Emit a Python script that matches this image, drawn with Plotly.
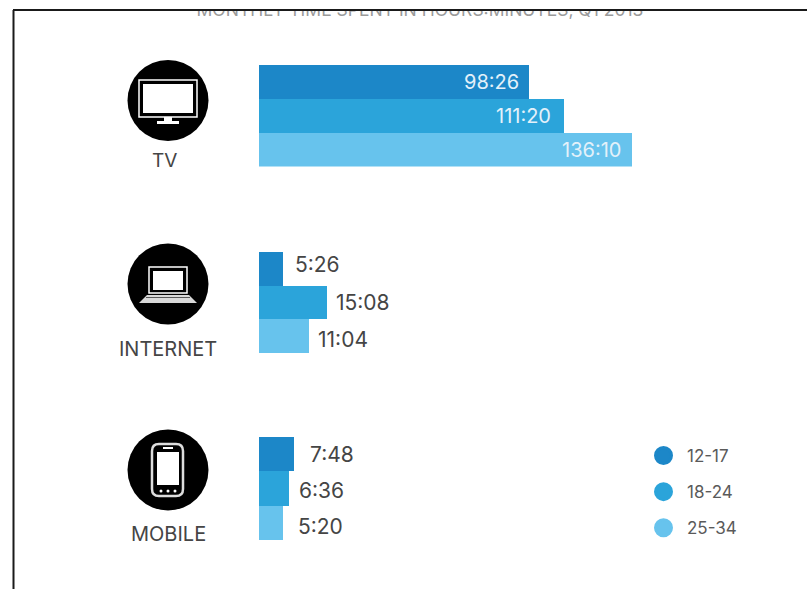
import plotly.graph_objects as go

WIDTH, HEIGHT = 807, 589

# Time per age group, written as hours:minutes
age_groups = ["12-17", "18-24", "25-34"]
tv_times = ["98:26", "111:20", "136:10"]
internet_times = ["5:26", "15:08", "11:04"]
mobile_times = ["7:48", "6:36", "5:20"]
colors = ["#1c87c8", "#2ba4da", "#67c3ed"]
media = ["TV", "INTERNET", "MOBILE"]
heading = "MONTHLY TIME SPENT IN HOURS:MINUTES, Q1 2013"

INK = "#454545"
FONT = "Inter"
BAR_LEFT = 259


def hours(text):
    h, m = text.split(":")
    return int(h) + int(m) / 60


def span_x(px):
    return px / WIDTH


def span_y(top, bottom):
    return [1 - bottom / HEIGHT, 1 - top / HEIGHT]


# Each panel: times, vertical pixel band, pixels per hour, label anchor and offsets
panels = [
    dict(times=tv_times, band=(65, 166.5), scale=2.741, inside=True,
         shift=[-8, -11, -9], lift=[0, 0, 0]),
    dict(times=internet_times, band=(252, 353), scale=4.48, inside=False,
         shift=[10, 7, 7], lift=[4, 0, -3]),
    dict(times=mobile_times, band=(437, 540), scale=4.48, inside=False,
         shift=[14, 8, 13], lift=[0, -2, -4]),
]

fig = go.Figure()
layout_axes = {}
annotations = []

for i, panel in enumerate(panels, start=1):
    suffix = "" if i == 1 else str(i)
    xname, yname = f"x{suffix}", f"y{suffix}"
    values = [hours(t) for t in panel["times"]]
    for group, value, color in zip(age_groups, values, colors):
        fig.add_trace(go.Bar(
            x=[value], y=[group], orientation="h", width=1,
            marker=dict(color=color, line=dict(width=0)),
            xaxis=xname, yaxis=yname, showlegend=False,
            hovertemplate=f"{group}: %{{x:.2f}}<extra></extra>",
        ))
    layout_axes[f"xaxis{suffix}"] = dict(
        domain=[span_x(BAR_LEFT), 1], range=[0, (WIDTH - BAR_LEFT) / panel["scale"]],
        visible=False, anchor=yname,
    )
    layout_axes[f"yaxis{suffix}"] = dict(
        domain=span_y(*panel["band"]), categoryorder="array", categoryarray=age_groups,
        range=[2.5, -0.5], visible=False, anchor=xname,
    )
    for group, value, label, dx, dy in zip(age_groups, values, panel["times"], panel["shift"], panel["lift"]):
        annotations.append(dict(
            x=value, y=group, xref=xname, yref=yname, text=label, showarrow=False,
            xanchor="right" if panel["inside"] else "left", xshift=dx, yshift=dy,
            font=dict(family=FONT, size=20 if panel["inside"] else 21,
                      color="#e3f1fa" if panel["inside"] else INK),
        ))

# Full-canvas axes in pixel units, used for the frame, icons and captions
layout_axes["xaxis4"] = dict(domain=[0, 1], range=[0, WIDTH], visible=False, anchor="y4")
layout_axes["yaxis4"] = dict(domain=[0, 1], range=[HEIGHT, 0], visible=False, anchor="x4")
# Same idea below the frame's top rule, so the heading is cut off at the rule
layout_axes["xaxis5"] = dict(domain=[0, 1], range=[0, WIDTH], visible=False, anchor="y5")
layout_axes["yaxis5"] = dict(domain=[0, 1 - 11 / HEIGHT], range=[HEIGHT, 11], visible=False, anchor="x5")

fig.add_trace(go.Scatter(
    x=[420], y=[11.2], mode="text", text=[heading], textposition="middle center",
    textfont=dict(family=FONT, size=17.5, color="#9a9a9a"), cliponaxis=True,
    xaxis="x5", yaxis="y5", showlegend=False, hoverinfo="skip",
))

# Age-group key
for group, color in zip(age_groups, colors):
    fig.add_trace(go.Scatter(
        x=[None], y=[None], mode="markers", name=group, legendgroup=group,
        marker=dict(symbol="circle", size=16, color=color, line=dict(color=color, width=3)),
        xaxis="x4", yaxis="y4",
    ))


def box(x0, y0, x1, y1, fill):
    return dict(type="rect", xref="x4", yref="y4", x0=x0, y0=y0, x1=x1, y1=y1,
                fillcolor=fill, line=dict(width=0))


def disc(cx, cy, r, fill="black"):
    return dict(type="circle", xref="x4", yref="y4", x0=cx - r, y0=cy - r, x1=cx + r, y1=cy + r,
                fillcolor=fill, line=dict(width=0))


def outline(x0, y0, x1, y1, width=1.5):
    return dict(type="rect", xref="x4", yref="y4", x0=x0, y0=y0, x1=x1, y1=y1,
                fillcolor="rgba(0,0,0,0)", line=dict(color="white", width=width))


def rounded(x0, y0, x1, y1, r, fill, line=None, width=1.5):
    path = (f"M{x0 + r},{y0} L{x1 - r},{y0} Q{x1},{y0} {x1},{y0 + r} L{x1},{y1 - r} "
            f"Q{x1},{y1} {x1 - r},{y1} L{x0 + r},{y1} Q{x0},{y1} {x0},{y1 - r} "
            f"L{x0},{y0 + r} Q{x0},{y0} {x0 + r},{y0} Z")
    return dict(type="path", xref="x4", yref="y4", path=path, fillcolor=fill,
                line=dict(color=line or fill, width=width if line else 0))


shapes = [
    # Frame
    dict(type="line", xref="x4", yref="y4", x0=13, y0=10, x1=WIDTH, y1=10, line=dict(color="#1a1a1a", width=2)),
    dict(type="line", xref="x4", yref="y4", x0=13.5, y0=10, x1=13.5, y1=HEIGHT, line=dict(color="#1a1a1a", width=2)),
    # Television
    disc(168, 100.5, 40.5),
    outline(139, 80, 197, 117),
    box(143, 84, 193, 113, "white"),
    box(164, 117, 172, 121, "white"),
    box(157, 121, 179, 124, "white"),
    # Laptop
    disc(168, 284, 40.5),
    outline(149, 267, 187, 293),
    box(153, 271, 183, 290, "white"),
    dict(type="path", xref="x4", yref="y4", path="M147,295 L189,295 L197,303 L139,303 Z",
         fillcolor="#d8d8d8", line=dict(width=0)),
    box(146, 297, 190, 298, "#555555"),
    # Phone
    disc(168, 470, 40.5),
    rounded(152, 444, 183, 496, 7, "black", "#dddddd", 2.5),
    box(157, 452, 179, 485, "white"),
    box(163, 447, 173, 449, "white"),
    disc(161, 491, 1.5, "white"),
    disc(168, 491, 1.5, "white"),
    disc(175, 491, 1.5, "white"),
]

captions = [(164, 160, 19), (168, 349, 20), (168, 534, 20)]
for name, (cx, cy, size) in zip(media, captions):
    annotations.append(dict(
        x=cx, y=cy, xref="x4", yref="y4", text=name, showarrow=False,
        font=dict(family=FONT, size=size, color=INK),
    ))

fig.update_layout(
    width=WIDTH, height=HEIGHT, margin=dict(l=0, r=0, t=0, b=0, pad=0),
    paper_bgcolor="white", plot_bgcolor="rgba(0,0,0,0)",
    barmode="overlay", bargap=0, shapes=shapes, annotations=annotations,
    legend=dict(
        x=640 / WIDTH, y=1 - 438 / HEIGHT, xanchor="left", yanchor="top",
        font=dict(family=FONT, size=17, color="#5a5a5a"), bgcolor="rgba(0,0,0,0)",
        tracegroupgap=11, itemsizing="trace", itemwidth=37,
    ),
    **layout_axes,
)

fig.write_html("out.html", config=dict(displayModeBar=False))
